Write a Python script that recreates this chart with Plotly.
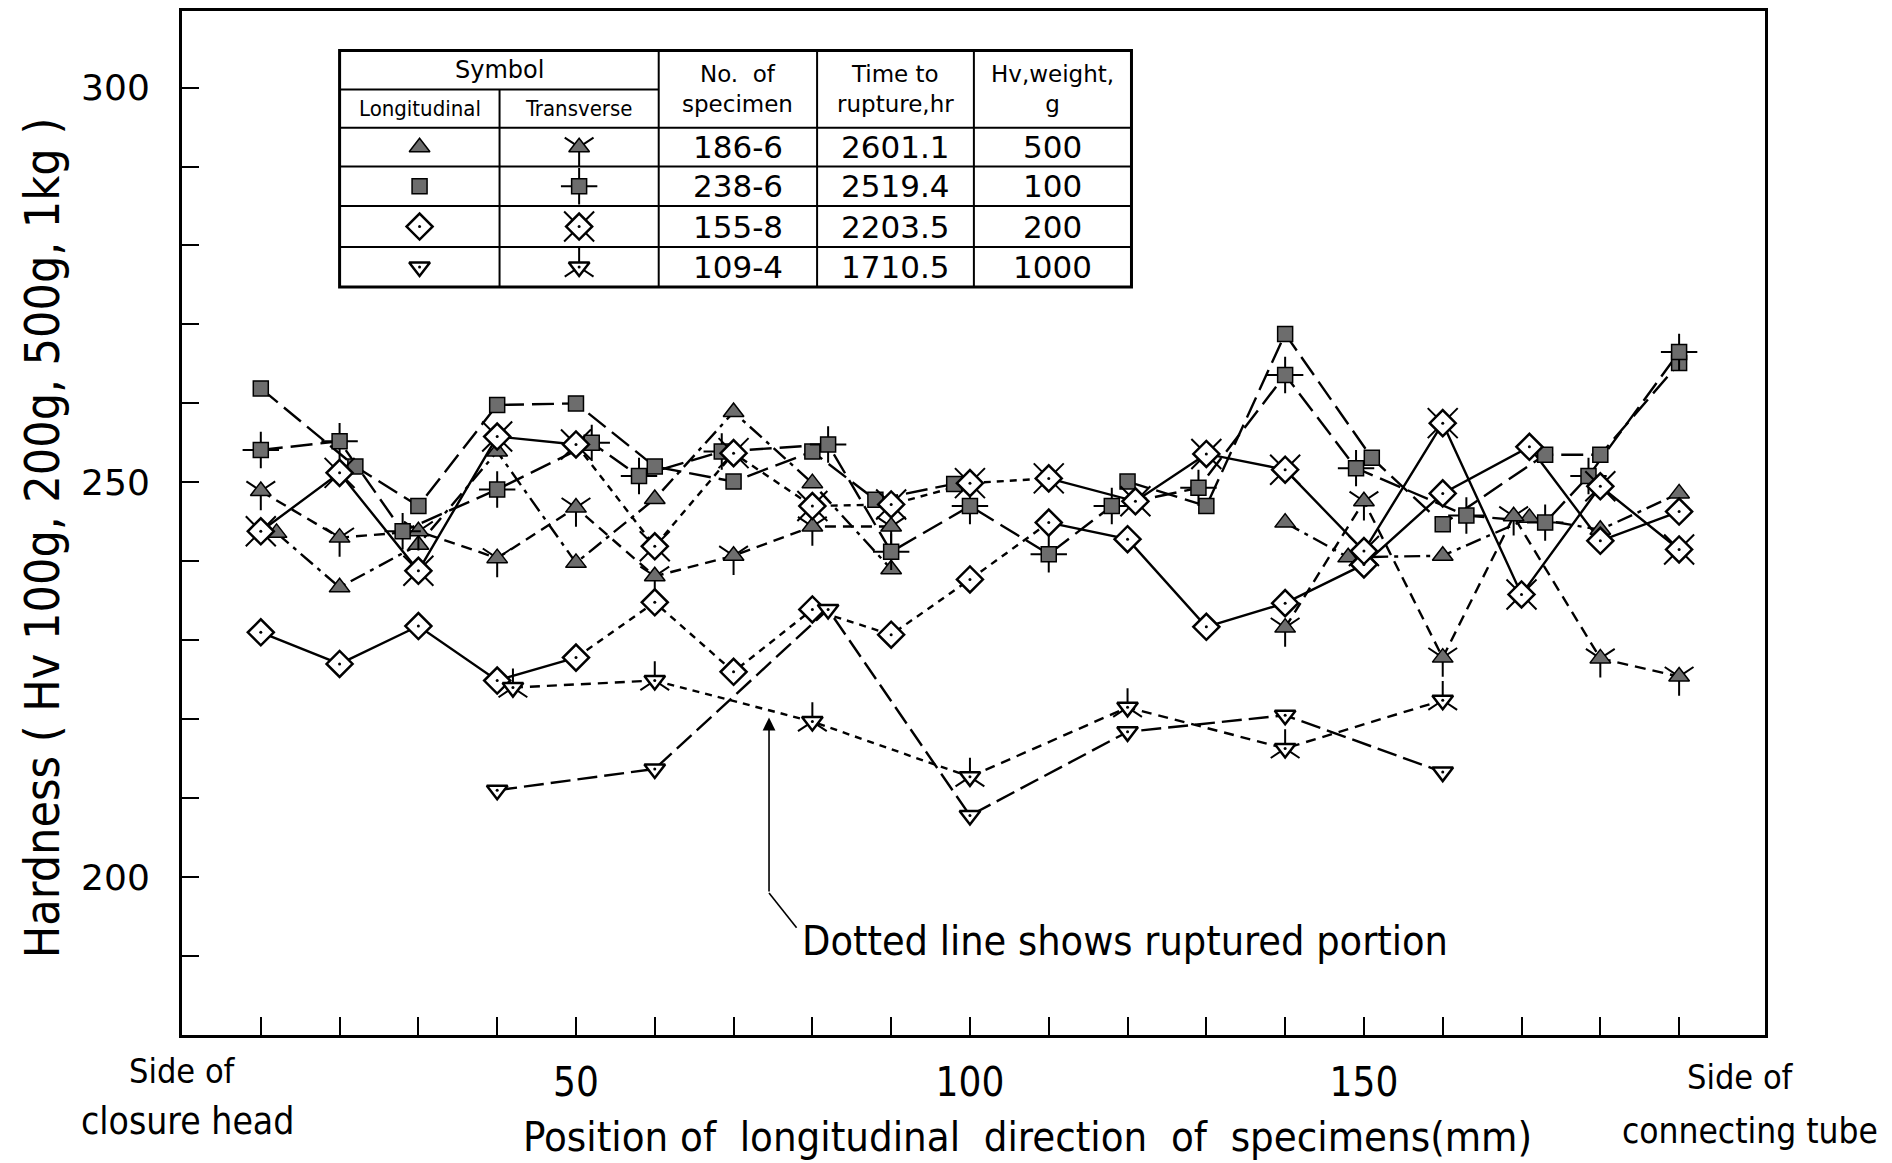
import plotly.graph_objects as go

# ---- hardness profiles: position along specimen (mm) and Hv ----
# 186-6, Hv 500 g
tri_long_x = [12, 20, 30, 40, 50, 60, 70, 80, 90, None, 140, 148, 160, 171, 180, 190]
tri_long_y = [243.6, 236.7, 242.1, 253.9, 239.8, 247.9, 258.9, 249.9, 239.0, None,
              244.9, 240.5, 240.7, 245.5, 244.0, 248.6]
tri_trans_x = [10, 20, 30, 40, 50, 60, 70, 80, 90, None, 140, 150, 160, 169, 180, 190]
tri_trans_y = [248.9, 243.0, 243.8, 240.4, 246.8, 238.1, 240.7, 244.4, 244.4, None,
               231.6, 247.6, 227.8, 245.7, 227.7, 225.4]
# 238-6, Hv 100 g
sq_long_x = [10, 22, 30, 40, 50, 60, 70, 80, 88, 98, None, 120, 130, 140, 151, 160, 173, 180, 190]
sq_long_y = [261.9, 252.0, 247.0, 259.8, 260.0, 252.0, 250.1, 253.9, 247.8, 249.8, None,
             250.1, 247.0, 268.8, 253.1, 244.7, 253.5, 253.5, 265.1]
sq_trans_x = [10, 20, 28, 40, 52, 58, 68.5, 82, 90, 100, 110, 118, 129, 140, 149, 163, 173, 178.5, 190]
sq_trans_y = [254.1, 255.2, 243.8, 249.1, 255.0, 250.8, 253.9, 254.8, 241.2, 247.0,
              240.9, 247.0, 249.3, 263.6, 251.8, 245.8, 244.9, 250.8, 266.5]
# 155-8, Hv 200 g
dia_long_x = [10, 20, 30, 40, 50, 60, 70, 80, 90, 100, 110, 120, 130, 140, 150, 160, 171, 180, 190]
dia_long_y = [231.0, 227.0, 231.8, 224.9, 227.8, 234.8, 226.0, 233.9, 230.7, 237.7,
              244.9, 242.8, 231.7, 234.7, 239.6, 248.6, 254.5, 242.6, 246.3]
dia_trans_x = [10, 20, 30, 40, 50, 60, 70, 80, 90, 100, 110, 121, 130, 140, 150, 160, 170, 180, 190]
dia_trans_y = [243.8, 251.2, 238.8, 255.8, 254.8, 241.9, 253.7, 247.0, 247.2, 249.9,
               250.5, 247.6, 253.6, 251.6, 241.3, 257.5, 235.8, 249.5, 241.5]
# 109-4, Hv 1 kg
inv_long_x = [40, 60, 82, 100, 120, 140, 160]
inv_long_y = [211.0, 213.7, 233.9, 207.8, 218.4, 220.5, 213.3]
inv_trans_x = [42, 60, 80, 100, 120, 140, 160]
inv_trans_y = [224.0, 224.9, 219.7, 212.7, 221.5, 216.3, 222.4]

# ---- symbol table contents ----
specimen_no = ["186-6", "238-6", "155-8", "109-4"]
rupture_hr = ["2601.1", "2519.4", "2203.5", "1710.5"]
hv_weight = ["500", "100", "200", "1000"]
table_kinds = ["tri", "sq", "dia", "inv"]

# ---- axis ticks ----
x_tick_vals = list(range(10, 200, 10))
x_tick_text = ["50" if v == 50 else "100" if v == 100 else "150" if v == 150 else "" for v in x_tick_vals]
y_tick_vals = list(range(190, 310, 10))
y_tick_text = [str(v) if v in (200, 250, 300) else "" for v in y_tick_vals]

FONT = "DejaVu Sans"
NARROW = "DejaVu Sans Condensed, Liberation Sans Narrow, DejaVu Sans"
FILL = "#6d6d6d"

# series: data, marker kind, transverse flag, base dash, ruptured range
series = [
    dict(x=tri_long_x, y=tri_long_y, kind="tri", trans=False, dash="16px,6px,4px,6px", rupt=None),
    dict(x=tri_trans_x, y=tri_trans_y, kind="tri", trans=True, dash="11px,7px", rupt=None),
    dict(x=sq_long_x, y=sq_long_y, kind="sq", trans=False, dash="22px,8px", rupt=None),
    dict(x=sq_trans_x, y=sq_trans_y, kind="sq", trans=True, dash="22px,8px", rupt=None),
    dict(x=dia_long_x, y=dia_long_y, kind="dia", trans=False, dash="solid", rupt=(50, 110)),
    dict(x=dia_trans_x, y=dia_trans_y, kind="dia", trans=True, dash="solid", rupt=(50, 110)),
    dict(x=inv_long_x, y=inv_long_y, kind="inv", trans=False, dash="20px,7px", rupt=None),
    dict(x=inv_trans_x, y=inv_trans_y, kind="inv", trans=True, dash="10px,7px", rupt=(60, 100)),
]
RUPT_DASH = "7px,6px"

BASE = {
    "tri": dict(symbol="triangle-up", size=18, color=FILL, line=dict(color="black", width=1.5)),
    "sq": dict(symbol="square", size=15, color=FILL, line=dict(color="black", width=1.5)),
    "dia": dict(symbol="diamond", size=20, color="white", line=dict(color="black", width=2.5)),
    "inv": dict(symbol="triangle-down", size=18, color="white", line=dict(color="black", width=2.5)),
}
SPIKE = {"tri": ("y-down-open", 24), "sq": ("cross-thin-open", 26),
         "dia": ("x-thin-open", 30), "inv": ("y-up-open", 24)}


def split_runs(xs, ys, rupt):
    """Split a polyline into runs of normal / ruptured segments."""
    runs, cur = [], None
    for i in range(len(xs) - 1):
        x0, y0, x1, y1 = xs[i], ys[i], xs[i + 1], ys[i + 1]
        if x0 is None or x1 is None:
            cur = None
            continue
        r = rupt is not None and x0 >= rupt[0] and x1 <= rupt[1]
        if cur is not None and cur[0] == r:
            cur[1].append(x1)
            cur[2].append(y1)
        else:
            cur = [r, [x0, x1], [y0, y1]]
            runs.append(cur)
    return runs


def add_markers(fig, xs, ys, kind, trans):
    if trans:
        sym, sz = SPIKE[kind]
        fig.add_trace(go.Scatter(x=xs, y=ys, mode="markers", hoverinfo="skip",
                                 marker=dict(symbol=sym, size=sz, color="black",
                                             line=dict(color="black", width=2))))
    fig.add_trace(go.Scatter(x=xs, y=ys, mode="markers", hoverinfo="skip", marker=BASE[kind]))
    if kind in ("dia", "inv"):
        fig.add_trace(go.Scatter(x=xs, y=ys, mode="markers", hoverinfo="skip",
                                 marker=dict(symbol="circle", size=3, color="black")))


fig = go.Figure()

for s in series:
    for r, rx, ry in split_runs(s["x"], s["y"], s["rupt"]):
        fig.add_trace(go.Scatter(x=rx, y=ry, mode="lines", hoverinfo="skip",
                                 line=dict(color="black", width=2.4,
                                           dash=RUPT_DASH if r else s["dash"])))
for s in series:
    add_markers(fig, s["x"], s["y"], s["kind"], s["trans"])

# ---- symbol table ----
TX = [20.0, 40.3, 60.5, 80.6, 100.5, 120.5]
TY = [304.7, 299.75, 294.9, 290.0, 285.0, 279.8, 274.75]
shapes = [dict(type="rect", xref="x", yref="y", x0=TX[0], x1=TX[5], y0=TY[6], y1=TY[0],
               fillcolor="white", line=dict(color="black", width=3), layer="below")]
shapes.append(dict(type="line", xref="x", yref="y", x0=TX[0], x1=TX[2], y0=TY[1], y1=TY[1],
                   line=dict(color="black", width=2), layer="below"))
for yy in TY[2:6]:
    shapes.append(dict(type="line", xref="x", yref="y", x0=TX[0], x1=TX[5], y0=yy, y1=yy,
                       line=dict(color="black", width=2), layer="below"))
shapes.append(dict(type="line", xref="x", yref="y", x0=TX[1], x1=TX[1], y0=TY[1], y1=TY[6],
                   line=dict(color="black", width=2), layer="below"))
for xx in TX[2:5]:
    shapes.append(dict(type="line", xref="x", yref="y", x0=xx, x1=xx, y0=TY[0], y1=TY[6],
                       line=dict(color="black", width=2), layer="below"))

row_y = [(TY[i] + TY[i + 1]) / 2 for i in range(2, 6)]
col_x = [(TX[i] + TX[i + 1]) / 2 for i in range(5)]
for k, yy in zip(table_kinds, row_y):
    add_markers(fig, [col_x[0]], [yy], k, False)
    add_markers(fig, [col_x[1]], [yy], k, True)

ann = []


def txt(x, y, s, size, xref="x", yref="y", family=FONT, **kw):
    kw.setdefault("xanchor", "center")
    kw.setdefault("yanchor", "middle")
    ann.append(dict(x=x, y=y, xref=xref, yref=yref, text=s, showarrow=False,
                    font=dict(family=family, size=size, color="black"), **kw))


txt((TX[0] + TX[2]) / 2, (TY[0] + TY[1]) / 2, "Symbol", 24)
txt(col_x[0], (TY[1] + TY[2]) / 2, "Longitudinal", 22, family=NARROW)
txt(col_x[1], (TY[1] + TY[2]) / 2, "Transverse", 22, family=NARROW)
txt(col_x[2], (TY[0] + TY[2]) / 2, "No.  of<br>specimen", 23)
txt(col_x[3], (TY[0] + TY[2]) / 2, "Time to<br>rupture,hr", 23)
txt(col_x[4], (TY[0] + TY[2]) / 2, "Hv,weight,<br>g", 23)
for i, yy in enumerate(row_y):
    txt(col_x[2], yy, specimen_no[i], 31)
    txt(col_x[3], yy, rupture_hr[i], 31)
    txt(col_x[4], yy, hv_weight[i], 31)

# ---- note with arrow ----
txt(78.4, 191.9, "Dotted line shows ruptured portion", 41, family=NARROW, xanchor="left")
ann.append(dict(x=74.5, y=220.2, ax=74.5, ay=198.0, xref="x", yref="y", axref="x", ayref="y",
                text="", showarrow=True, arrowhead=2, arrowsize=1.6, arrowwidth=1.6,
                arrowcolor="black"))
shapes.append(dict(type="line", xref="x", yref="y", x0=74.5, y0=198.0, x1=78.0, y1=193.6,
                   line=dict(color="black", width=1.6)))

# ---- axis captions ----
txt(0.0, -0.035, "Side of", 34, xref="paper", yref="paper", family=NARROW)
txt(0.0032, -0.0847, "closure head", 37, xref="paper", yref="paper", family=NARROW)
txt(0.9848, -0.0409, "Side of", 34, xref="paper", yref="paper", family=NARROW)
txt(0.9905, -0.0935, "connecting tube", 35, xref="paper", yref="paper", family=NARROW)
txt(0.5344, -0.0993, "Position of  longitudinal  direction  of  specimens(mm)", 41.5,
    xref="paper", yref="paper", family=NARROW)
txt(-0.0880, 0.4849, "Hardness ( Hv 100g, 200g, 500g, 1kg )", 48,
    xref="paper", yref="paper", family=NARROW, textangle=-90)

fig.update_layout(
    width=1892, height=1163,
    margin=dict(l=182, r=127, t=8, b=128),
    plot_bgcolor="white", paper_bgcolor="white",
    showlegend=False,
    font=dict(family=FONT, color="black"),
    shapes=shapes, annotations=ann,
    xaxis=dict(range=[0, 200.9], tickmode="array", tickvals=x_tick_vals, ticktext=x_tick_text,
               ticks="inside", ticklen=18, tickwidth=2, tickcolor="black",
               showline=True, linewidth=3, linecolor="black", mirror=True,
               showgrid=False, zeroline=False, ticklabelstandoff=10,
               tickfont=dict(family=NARROW, size=40, color="black")),
    yaxis=dict(range=[180, 309.7], tickmode="array", tickvals=y_tick_vals, ticktext=y_tick_text,
               ticks="inside", ticklen=17, tickwidth=2, tickcolor="black",
               showline=True, linewidth=3, linecolor="black", mirror=True,
               showgrid=False, zeroline=False, ticklabelstandoff=22,
               tickfont=dict(family=FONT, size=36, color="black")),
)

fig.write_html("out.html")
